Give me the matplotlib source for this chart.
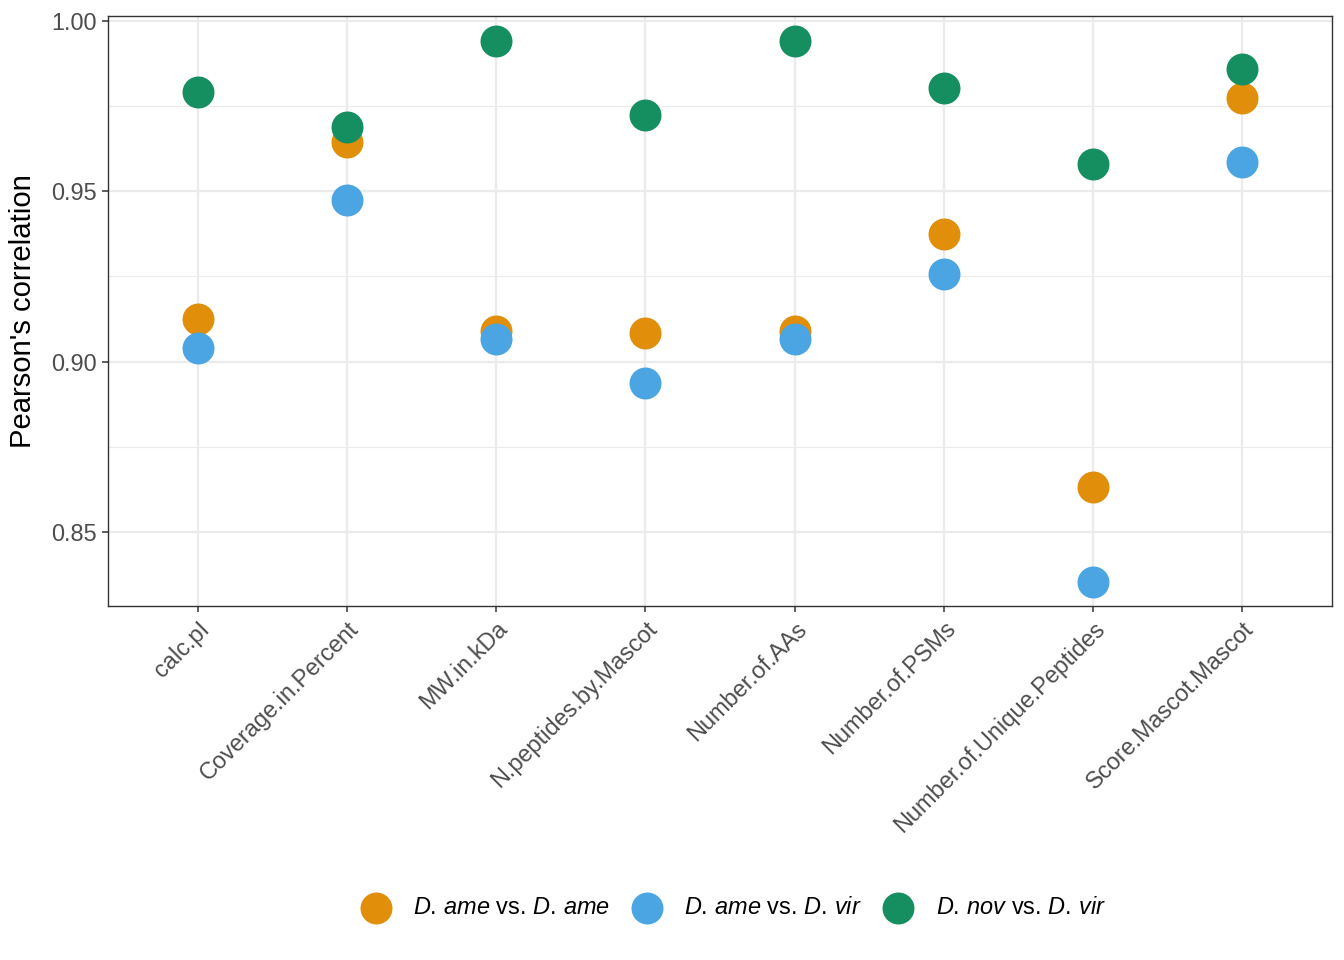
import matplotlib
matplotlib.use("Agg")
import matplotlib.pyplot as plt
import numpy as np

categories = ["calc.pI", "Coverage.in.Percent", "MW.in.kDa", "N.peptides.by.Mascot",
              "Number.of.AAs", "Number.of.PSMs", "Number.of.Unique.Peptides", "Score.Mascot.Mascot"]
ame_ame = [0.9126, 0.9644, 0.9091, 0.9085, 0.9091, 0.9374, 0.8632, 0.9774]
ame_vir = [0.9041, 0.9474, 0.9065, 0.8938, 0.9065, 0.9256, 0.8353, 0.9585]
nov_vir = [0.9791, 0.9688, 0.9941, 0.9724, 0.9941, 0.9803, 0.9579, 0.9859]
series_labels = [r"$\it{D.\,ame}$ vs. $\it{D.\,ame}$",
                 r"$\it{D.\,ame}$ vs. $\it{D.\,vir}$",
                 r"$\it{D.\,nov}$ vs. $\it{D.\,vir}$"]
colors = ["#E18E0A", "#4CA5E3", "#168F60"]
yticks = [0.85, 0.90, 0.95, 1.00]
yminor = [0.875, 0.925, 0.975]

plt.rcParams["font.family"] = ["Liberation Sans", "DejaVu Sans"]
plt.rcParams["mathtext.fontset"] = "custom"
plt.rcParams["mathtext.rm"] = "Liberation Sans"
plt.rcParams["mathtext.it"] = "Liberation Sans:italic"

fig = plt.figure(figsize=(13.44, 9.6), dpi=100)
ax = fig.add_axes([108/1344, 1-606/960, (1332-108)/1344, (606-16)/960])

x = np.arange(len(categories))
for vals, c, lab in zip([ame_ame, ame_vir, nov_vir], colors, series_labels):
    ax.scatter(x, vals, s=530, color=c, label=lab, zorder=3, linewidths=0)

ax.set_xlim(-0.6, len(categories) - 1 + 0.6)
ax.set_ylim(0.8282, 1.0015)
ax.set_xticks(x)
ax.set_xticklabels(categories, rotation=45, ha="right", va="top", rotation_mode="anchor",
                   fontsize=16.9, color="#4D4D4D")
ax.set_yticks(yticks)
ax.set_yticklabels([f"{v:.2f}" for v in yticks], fontsize=16.9, color="#4D4D4D")
ax.set_yticks(yminor, minor=True)
ax.tick_params(axis="both", which="major", length=4.5, width=1.1, color="#333333", pad=3.5)
ax.tick_params(axis="y", which="minor", length=0)
ax.grid(True, which="major", color="#EBEBEB", linewidth=1.6, zorder=0)
ax.grid(True, which="minor", axis="y", color="#EBEBEB", linewidth=0.8, zorder=0)
ax.set_axisbelow(True)
for sp in ax.spines.values():
    sp.set_color("#333333")
    sp.set_linewidth(1.0)

ax.set_ylabel("Pearson's correlation", fontsize=21.1, color="black", labelpad=10)

handles, labels = ax.get_legend_handles_labels()
fig.legend(handles, labels, loc="center", bbox_to_anchor=(0.5425, 1-908/960), ncol=3,
           frameon=False, fontsize=16.9, handletextpad=0.6, columnspacing=0.55,
           markerscale=1.0, scatterpoints=1)

fig.savefig("out.png", dpi=100)
